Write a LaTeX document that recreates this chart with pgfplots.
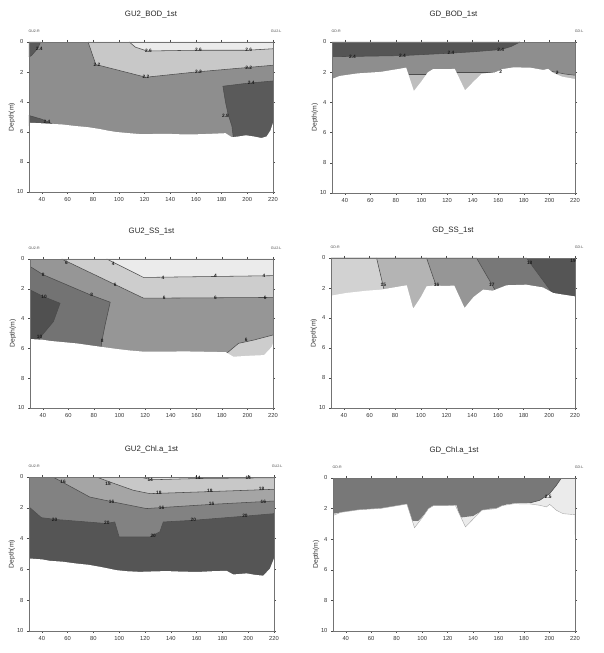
\documentclass[border=0pt]{standalone}
\usepackage{pgfplots}
\pgfplotsset{compat=1.18}
\usepackage{fontspec}
\setmainfont{Liberation Sans}
\definecolor{g80}{RGB}{80,80,80}
\definecolor{g85}{RGB}{85,85,85}
\definecolor{g90}{RGB}{90,90,90}
\definecolor{g115}{RGB}{115,115,115}
\definecolor{g120}{RGB}{120,120,120}
\definecolor{g130}{RGB}{130,130,130}
\definecolor{g140}{RGB}{142,142,142}
\definecolor{g150}{RGB}{150,150,150}
\definecolor{g165}{RGB}{165,165,165}
\definecolor{g180}{RGB}{180,180,180}
\definecolor{g190}{RGB}{190,190,190}
\definecolor{g200}{RGB}{200,200,200}
\definecolor{g205}{RGB}{205,205,205}
\definecolor{g210}{RGB}{210,210,210}
\definecolor{g228}{RGB}{228,228,228}
\definecolor{g235}{RGB}{235,235,235}
\pgfplotsset{
 panel/.style={
  scale only axis, width=244pt, height=150pt, anchor=south west,
  xmin=30, xmax=220, ymin=0, ymax=10, y dir=reverse,
  xtick={40,60,...,220}, ytick={0,2,...,10},
  tick align=outside, major tick length=2pt,
  tick style={black!70, thin},
  axis line style={black!55, thin},
  axis on top,
  tick label style={font=\fontsize{5.8}{6}\selectfont, text=black!80},
  /pgf/number format/assume math mode=true,
  ylabel={Depth(m)},
  ylabel style={font=\fontsize{6.8}{7}\selectfont, text=black!80, at={(axis description cs:-0.07,0.5)}, anchor=center},
  title style={font=\fontsize{7.8}{8}\selectfont, text=black!85, at={(axis description cs:0.5,1)}, anchor=base, yshift=19pt},
 },
 cline/.style={draw=black!70, line width=0.55pt, mark=none},
 clab/.style={draw=none, mark=none, nodes near coords, point meta=explicit symbolic,
   nodes near coords style={font=\fontsize{4.8}{4.8}\selectfont\bfseries, anchor=center, inner sep=0pt, text=black!90}},
 gumask/.style={fill=white, draw=none},
}
\tikzset{corner/.style={font=\fontsize{3.6}{4}\selectfont, text=black!70}}
\begin{document}
\begin{tikzpicture}
\path[use as bounding box] (0,0) rectangle (603pt,653pt);

% ---------- P1 GU2_BOD_1st ----------
\begin{axis}[panel, name=p1, at={(29pt,461pt)}, title={GU2\_BOD\_1st}]
\addplot[fill=g140, draw=none] coordinates {(30,0)(220,0)(220,10)(30,10)} -- cycle;
\addplot[fill=g200, draw=none] coordinates {(76,0)(82,1.5)(121,2.35)(160,2.0)(200,1.7)(220,1.55)(220,0)} -- cycle;
\addplot[fill=g235, draw=none] coordinates {(108,0)(113,0.35)(122,0.6)(160,0.55)(200,0.55)(220,0.45)(220,0)} -- cycle;
\addplot[fill=g90, draw=none] coordinates {(30,0)(39,0)(37,0.4)(32,0.9)(30,1.0)} -- cycle;
\addplot[fill=g90, draw=none] coordinates {(30,4.9)(40,5.15)(48,5.45)(30,5.6)} -- cycle;
\addplot[fill=g90, draw=none] coordinates {(181,2.95)(200,2.75)(220,2.6)(220,7)(190,7)(188,5.6)(185,4.8)(183,4.0)} -- cycle;
\addplot[cline] coordinates {(76,0)(82,1.5)(121,2.35)(160,2.0)(200,1.7)(220,1.55)};
\addplot[cline] coordinates {(108,0)(113,0.35)(122,0.6)(160,0.55)(200,0.55)(220,0.45)};
\addplot[cline] coordinates {(39,0)(37,0.4)(32,0.9)(30,1.0)};
\addplot[cline] coordinates {(30,4.9)(40,5.15)(48,5.45)};
\addplot[cline] coordinates {(181,2.95)(200,2.75)(220,2.6)};
\addplot[cline] coordinates {(181,2.95)(183,4.0)(185,4.8)(188,5.6)(190,7)};
\addplot[gumask] coordinates {(30,5.38)(40,5.42)(46,5.45)(56,5.5)(66,5.6)(76,5.68)(85,5.8)(92,5.92)(98,6.0)(108,6.08)(118,6.15)(128,6.13)(137,6.12)(150,6.16)(162,6.15)(172,6.12)(183,6.08)(188,6.35)(193,6.3)(199,6.22)(205,6.3)(211,6.4)(215,6.3)(218,5.9)(220,5.4)(221,11)(29,11)} -- cycle;
\addplot[clab] coordinates {(38,0.45)[2.4] (83,1.5)[2.2] (121,2.35)[2.2] (162,2.0)[2.2] (201,1.7)[2.2] (123,0.6)[2.6] (162,0.55)[2.6] (201,0.55)[2.6] (203,2.72)[2.4] (183,4.9)[2.8] (44,5.3)[2.4]};
\end{axis}
\node[corner, anchor=base west] at ([xshift=-4pt,yshift=9pt]p1.north west) {GU2-R};
\node[corner, anchor=base east] at ([xshift=12pt,yshift=9pt]p1.north east) {GU2-L};

% ---------- P2 GD_BOD_1st ----------
\begin{axis}[panel, name=p2, at={(332pt,460pt)}, height=151pt, width=243pt, title={GD\_BOD\_1st}]
\addplot[fill=g140, draw=none] coordinates {(30,0)(220,0)(220,10)(30,10)} -- cycle;
\addplot[fill=g85, draw=none] coordinates {(30,0)(177,0)(170,0.3)(162,0.5)(140,0.65)(120,0.75)(85,0.9)(50,0.95)(30,0.97)} -- cycle;
\addplot[fill=g190, draw=none] coordinates {(90,2.15)(105,2.15)(105,4)(90,4)} -- cycle;
\addplot[fill=g190, draw=none] coordinates {(127,2.0)(161,2.0)(161,4)(127,4)} -- cycle;
\addplot[fill=g190, draw=none] coordinates {(196,1.85)(205,2.0)(212,2.12)(220,2.2)(220,4)(196,4)} -- cycle;
\addplot[cline] coordinates {(30,0.97)(50,0.95)(85,0.9)(120,0.75)(140,0.65)(162,0.5)(170,0.3)(177,0)};
\addplot[cline] coordinates {(90,2.15)(105,2.15)};
\addplot[cline] coordinates {(127,2.0)(161,2.0)};
\addplot[cline] coordinates {(196,1.85)(205,2.0)(212,2.12)(220,2.2)};
\addplot[gumask] coordinates {(30,2.45)(36,2.25)(50,2.08)(68,1.98)(81,1.8)(88,1.7)(94,3.25)(100,2.6)(105,2.0)(109,1.8)(120,1.8)(126,1.78)(134,3.2)(141,2.6)(147,2.1)(158,2.0)(163,1.8)(172,1.68)(185,1.7)(195,1.85)(199,1.78)(203,2.05)(210,2.3)(220,2.45)(221,11)(29,11)} -- cycle;
\addplot[clab] coordinates {(46,0.95)[2.4] (85,0.9)[2.4] (123,0.75)[2.4] (162,0.5)[2.4] (162,2.0)[2] (206,2.05)[2]};
\end{axis}
\node[corner, anchor=base west] at ([xshift=-4pt,yshift=9pt]p2.north west) {GD-R};
\node[corner, anchor=base east] at ([xshift=12pt,yshift=9pt]p2.north east) {GD-L};

% ---------- P3 GU2_SS_1st ----------
\begin{axis}[panel, name=p3, at={(30pt,245pt)}, width=243pt, height=149pt, title={GU2\_SS\_1st}]
\addplot[fill=g150, draw=none] coordinates {(30,0)(220,0)(220,10)(30,10)} -- cycle;
\addplot[fill=g205, draw=none] coordinates {(54.8,0)(118.8,2.63)(220,2.58)(220,0)} -- cycle;
\addplot[fill=g235, draw=none] coordinates {(90,0)(118.8,1.24)(134,1.22)(220,1.12)(220,0)} -- cycle;
\addplot[fill=g115, draw=none] coordinates {(30,0.5)(40.4,1.06)(77,2.4)(92.7,2.9)(88.7,4.43)(86.1,5.55)(84.8,6.5)(30,6.5)} -- cycle;
\addplot[fill=g80, draw=none] coordinates {(30,2.07)(40.4,2.52)(53.5,2.97)(48.3,4.2)(37.8,5.28)(35,6)(30,6)} -- cycle;
\addplot[fill=g205, draw=none] coordinates {(183,6.4)(185.3,6.22)(193.1,5.66)(205,5.44)(220,5.1)(220,7)(183,7)} -- cycle;
\addplot[cline] coordinates {(90,0)(118.8,1.24)(134,1.22)(220,1.12)};
\addplot[cline] coordinates {(54.8,0)(118.8,2.63)(220,2.58)};
\addplot[cline] coordinates {(30,0.5)(40.4,1.06)(77,2.4)(92.7,2.9)(88.7,4.43)(86.1,5.55)(84.8,6.5)};
\addplot[cline] coordinates {(30,2.07)(40.4,2.52)(53.5,2.97)(48.3,4.2)(37.8,5.28)(35,6)};
\addplot[cline] coordinates {(183,6.4)(185.3,6.22)(193.1,5.66)(205,5.44)(220,5.1)};
\addplot[gumask] coordinates {(30,5.37)(40,5.42)(46,5.5)(56,5.58)(67,5.67)(76,5.78)(85,5.89)(92,5.97)(98,6.04)(108,6.14)(119,6.22)(137,6.22)(150,6.2)(163,6.22)(175,6.24)(183,6.25)(189,6.56)(200,6.5)(213,6.45)(219,5.9)(220,5.66)(221,11)(29,11)} -- cycle;
\addplot[clab] coordinates {(95,0.34)[4] (134,1.24)[4] (175,1.15)[4] (213,1.12)[4] (58.5,0.27)[6] (96.6,1.73)[6] (135,2.6)[6] (175,2.6)[6] (214,2.6)[6] (40.4,1.06)[8] (78.3,2.4)[8] (86.4,5.5)[8] (41,2.55)[10] (37.5,5.2)[10] (199,5.45)[6]};
\end{axis}
\node[corner, anchor=base west] at ([xshift=-5pt,yshift=9pt]p3.north west) {GU2-R};
\node[corner, anchor=base east] at ([xshift=12pt,yshift=9pt]p3.north east) {GU2-L};

% ---------- P4 GD_SS_1st ----------
\begin{axis}[panel, name=p4, at={(331pt,245pt)}, title={GD\_SS\_1st}]
\addplot[fill=g85, draw=none] coordinates {(30,0)(220,0)(220,10)(30,10)} -- cycle;
\addplot[fill=g120, draw=none] coordinates {(30,0)(182.2,0)(212.3,3.5)(30,3.5)} -- cycle;
\addplot[fill=g150, draw=none] coordinates {(30,0)(143.3,0)(167,3.5)(30,3.5)} -- cycle;
\addplot[fill=g180, draw=none] coordinates {(30,0)(104.4,0)(118.5,3.5)(30,3.5)} -- cycle;
\addplot[fill=g210, draw=none] coordinates {(30,0)(65.5,0)(75.1,3.5)(30,3.5)} -- cycle;
\addplot[cline] coordinates {(65.5,0)(75.1,3.5)};
\addplot[cline] coordinates {(104.4,0)(118.5,3.5)};
\addplot[cline] coordinates {(143.3,0)(167,3.5)};
\addplot[cline] coordinates {(182.2,0)(212.3,3.5)};
\addplot[gumask] coordinates {(30,2.51)(42,2.33)(58,2.18)(69,2.11)(84,1.89)(89,1.82)(94,3.38)(100,2.6)(104.4,1.89)(110,1.84)(120,1.86)(126,1.84)(134,3.33)(141,2.6)(148.5,2.11)(156,2.18)(166.6,1.82)(182,1.78)(195,1.96)(203,2.33)(210.7,2.44)(220,2.56)(221,11)(29,11)} -- cycle;
\addplot[clab] coordinates {(70.7,1.78)[15] (112.2,1.78)[16] (155.2,1.78)[17] (184.7,0.33)[18] (218.5,0.2)[19]};
\end{axis}
\node[corner, anchor=base west] at ([xshift=-4pt,yshift=9pt]p4.north west) {GD-R};
\node[corner, anchor=base east] at ([xshift=12pt,yshift=9pt]p4.north east) {GD-L};

% ---------- P5 GU2_Chl.a_1st ----------
\begin{axis}[panel, name=p5, at={(29pt,22pt)}, width=245pt, height=154pt, title={GU2\_Chl.a\_1st}]
\addplot[fill=g85, draw=none] coordinates {(30,0)(220,0)(220,10)(30,10)} -- cycle;
\addplot[fill=g130, draw=none] coordinates {(30,0)(220,0)(220,2.38)(196.2,2.55)(157.4,2.81)(134.1,2.92)(131.5,3.56)(123.7,3.89)(99.9,3.89)(96.5,2.92)(90,3.02)(51.2,2.76)(39.6,2.64)(30,1.94)} -- cycle;
\addplot[fill=g165, draw=none] coordinates {(48.6,0)(77.1,1.3)(95.2,1.62)(121.1,2.05)(131.5,1.99)(172.9,1.77)(220,1.56)(220,0)} -- cycle;
\addplot[fill=g200, draw=none] coordinates {(82.3,0)(92.6,0.32)(110.8,0.86)(123.7,1.08)(162.5,0.97)(220,0.8)(220,0)} -- cycle;
\addplot[fill=g228, draw=none] coordinates {(116,0)(125,0.18)(160,0.1)(220,0.05)(220,0)} -- cycle;
\addplot[cline] coordinates {(30,1.94)(39.6,2.64)(51.2,2.76)(90,3.02)(96.5,2.92)(99.9,3.89)(123.7,3.89)(131.5,3.56)(134.1,2.92)(157.4,2.81)(196.2,2.55)(220,2.38)};
\addplot[cline] coordinates {(48.6,0)(77.1,1.3)(95.2,1.62)(121.1,2.05)(131.5,1.99)(172.9,1.77)(220,1.56)};
\addplot[cline] coordinates {(82.3,0)(92.6,0.32)(110.8,0.86)(123.7,1.08)(162.5,0.97)(220,0.8)};
\addplot[cline] coordinates {(116,0)(125,0.18)(160,0.1)(220,0.05)};
\addplot[gumask] coordinates {(30,5.29)(40,5.35)(46,5.44)(56,5.5)(66.8,5.62)(76,5.7)(84.9,5.83)(92,5.95)(97.8,6.05)(106,6.12)(116,6.16)(127,6.13)(136.7,6.11)(150,6.15)(162.5,6.16)(172,6.12)(183.2,6.09)(188.4,6.33)(193,6.3)(198.7,6.26)(205,6.35)(211.7,6.41)(216.9,5.94)(220,5.29)(221,11)(29,11)} -- cycle;
\addplot[clab] coordinates {(124,0.16)[14] (161,0.08)[14] (200,0.05)[14] (56.4,0.32)[16] (94,1.62)[16] (132.8,2.02)[16] (171.6,1.77)[16] (211.7,1.6)[16] (91.3,0.43)[18] (130.7,1.04)[18] (170.3,0.93)[18] (210.4,0.8)[18] (49.8,2.76)[20] (90.4,3.0)[20] (126.3,3.8)[20] (157.4,2.81)[20] (197.5,2.55)[20]};
\end{axis}
\node[corner, anchor=base west] at ([xshift=-4pt,yshift=9pt]p5.north west) {GU2-R};
\node[corner, anchor=base east] at ([xshift=12pt,yshift=9pt]p5.north east) {GU2-L};

% ---------- P6 GD_Chl.a_1st ----------
\begin{axis}[panel, name=p6, at={(333pt,22pt)}, width=242pt, height=153pt, title={GD\_Chl.a\_1st}]
\addplot[fill=g235, draw=none] coordinates {(30,0)(220,0)(220,4)(30,4)} -- cycle;
\addplot[fill=g120, draw=none] coordinates {(30,0)(209.3,0)(205.4,0.48)(200.1,1.02)(192.3,1.46)(184.5,1.63)(176.7,1.63)(166.2,1.72)(161,2.0)(153.2,2.0)(145.3,2.22)(140.1,2.48)(129.7,2.59)(127.1,1.78)(119.2,1.89)(107.5,1.85)(103.6,2.22)(97,2.8)(91.8,2.8)(87.9,1.72)(80.1,1.85)(67.1,2.07)(48.8,2.11)(30,2.33)} -- cycle;
\addplot[cline] coordinates {(209.3,0)(205.4,0.48)(200.1,1.02)(192.3,1.46)(184.5,1.63)};
\addplot[fill=white, draw=black!35, line width=0.4pt] coordinates {(30,2.45)(36,2.25)(50,2.08)(68,1.98)(81,1.8)(88,1.7)(94,3.25)(100,2.6)(105,2.0)(109,1.8)(120,1.8)(126,1.78)(134,3.2)(141,2.6)(147,2.1)(158,2.0)(163,1.8)(172,1.68)(185,1.7)(192,1.78)(197.6,1.89)(200.1,1.72)(205.4,2.11)(210.6,2.33)(220,2.4)(221,11)(29,11)} -- cycle;
\addplot[clab] coordinates {(199,1.24)[2.5]};
\end{axis}
\node[corner, anchor=base west] at ([xshift=-4pt,yshift=9pt]p6.north west) {GD-R};
\node[corner, anchor=base east] at ([xshift=12pt,yshift=9pt]p6.north east) {GD-L};
\end{tikzpicture}
\end{document}
